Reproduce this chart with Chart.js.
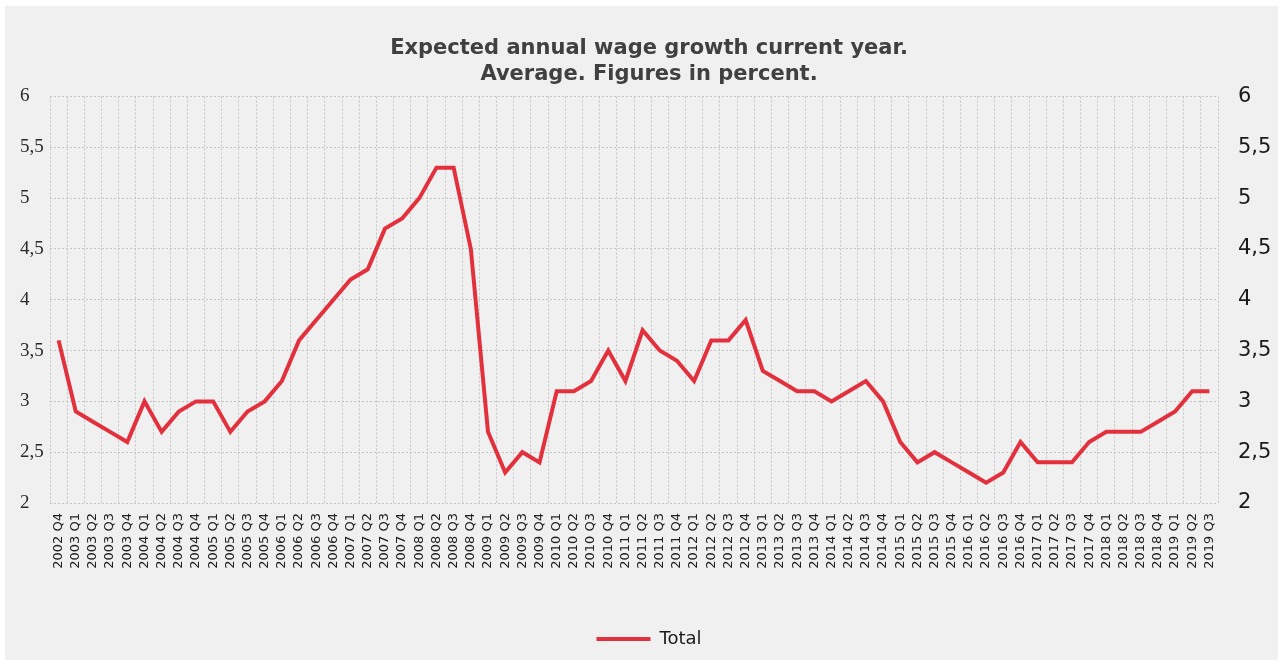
<!DOCTYPE html>
<html>
<head>
<meta charset="utf-8">
<title>Expected annual wage growth</title>
<script src="https://cdn.jsdelivr.net/npm/chart.js@4.4.0/dist/chart.umd.min.js"></script>
<style>
    html, body {
        margin: 0;
        padding: 0;
        background: #ffffff;
    }
    #wrap {
        position: absolute;
        left: 5px;
        top: 6px;
        width: 1273px;
        height: 654px;
        background: #f0f0f0;
    }
</style>
</head>
<body>
<div id="wrap"><canvas id="wageChart" width="1273" height="654"></canvas></div>
<script>
const quarters = [
    "2002 Q4",
    "2003 Q1", "2003 Q2", "2003 Q3", "2003 Q4",
    "2004 Q1", "2004 Q2", "2004 Q3", "2004 Q4",
    "2005 Q1", "2005 Q2", "2005 Q3", "2005 Q4",
    "2006 Q1", "2006 Q2", "2006 Q3", "2006 Q4",
    "2007 Q1", "2007 Q2", "2007 Q3", "2007 Q4",
    "2008 Q1", "2008 Q2", "2008 Q3", "2008 Q4",
    "2009 Q1", "2009 Q2", "2009 Q3", "2009 Q4",
    "2010 Q1", "2010 Q2", "2010 Q3", "2010 Q4",
    "2011 Q1", "2011 Q2", "2011 Q3", "2011 Q4",
    "2012 Q1", "2012 Q2", "2012 Q3", "2012 Q4",
    "2013 Q1", "2013 Q2", "2013 Q3", "2013 Q4",
    "2014 Q1", "2014 Q2", "2014 Q3", "2014 Q4",
    "2015 Q1", "2015 Q2", "2015 Q3", "2015 Q4",
    "2016 Q1", "2016 Q2", "2016 Q3", "2016 Q4",
    "2017 Q1", "2017 Q2", "2017 Q3", "2017 Q4",
    "2018 Q1", "2018 Q2", "2018 Q3", "2018 Q4",
    "2019 Q1", "2019 Q2", "2019 Q3"
];

const total = [
    3.6,
    2.9, 2.8, 2.7, 2.6,
    3.0, 2.7, 2.9, 3.0,
    3.0, 2.7, 2.9, 3.0,
    3.2, 3.6, 3.8, 4.0,
    4.2, 4.3, 4.7, 4.8,
    5.0, 5.3, 5.3, 4.5,
    2.7, 2.3, 2.5, 2.4,
    3.1, 3.1, 3.2, 3.5,
    3.2, 3.7, 3.5, 3.4,
    3.2, 3.6, 3.6, 3.8,
    3.3, 3.2, 3.1, 3.1,
    3.0, 3.1, 3.2, 3.0,
    2.6, 2.4, 2.5, 2.4,
    2.3, 2.2, 2.3, 2.6,
    2.4, 2.4, 2.4, 2.6,
    2.7, 2.7, 2.7, 2.8,
    2.9, 3.1, 3.1
];

const titleLines = ["Expected annual wage growth current year.", "Average. Figures in percent."];
const seriesName = "Total";
const yMin = 2;
const yMax = 6;
const yStep = 0.5;

document.addEventListener("DOMContentLoaded", () => {
    const gridColor = "#c4c4c4";
    const lineColor = "#e3303d";

    function commaLabel(value) {
        return String(value).replace(".", ",");
    }

    const ctx = document.getElementById("wageChart").getContext("2d");
    new Chart(ctx, {
        type: "line",
        data: {
            labels: quarters,
            datasets: [{
                label: seriesName,
                data: total,
                borderColor: lineColor,
                backgroundColor: lineColor,
                borderWidth: 4,
                pointRadius: 0,
                tension: 0,
                yAxisID: "y",
            }],
        },
        options: {
            responsive: false,
            animation: false,
            devicePixelRatio: 1,
            layout: {
                padding: { left: 15, right: 0, top: 0, bottom: 2 },
            },
            plugins: {
                title: {
                    display: true,
                    text: titleLines,
                    color: "#404040",
                    font: { family: "DejaVu Sans", size: 21, weight: "bold", lineHeight: 1.25 },
                    padding: { top: 29, bottom: 9 },
                },
                legend: {
                    position: "bottom",
                    labels: {
                        usePointStyle: true,
                        pointStyle: "line",
                        pointStyleWidth: 54,
                        color: "#1a1a1a",
                        font: { family: "DejaVu Sans", size: 18 },
                        padding: 10,
                    },
                },
                tooltip: { enabled: false },
            },
            scales: {
                x: {
                    offset: true,
                    grid: {
                        offset: true,
                        color: gridColor,
                        drawTicks: false,
                    },
                    border: { display: false, dash: [2, 2] },
                    ticks: {
                        autoSkip: false,
                        minRotation: 90,
                        maxRotation: 90,
                        padding: 10,
                        color: "#222222",
                        font: { family: "DejaVu Sans", size: 13 },
                    },
                    afterFit: (scale) => { scale.height = 117; },
                },
                y: {
                    position: "left",
                    min: yMin,
                    max: yMax,
                    grid: { color: gridColor, drawTicks: false },
                    border: { display: false, dash: [2, 2] },
                    ticks: {
                        stepSize: yStep,
                        crossAlign: "far",
                        padding: 0,
                        color: "#2a2a2a",
                        font: { family: "Liberation Sans Narrow", size: 19 },
                        callback: commaLabel,
                    },
                    afterFit: (scale) => { scale.width = 30; },
                },
                y2: {
                    position: "right",
                    min: yMin,
                    max: yMax,
                    grid: { display: false, drawTicks: false },
                    border: { display: false },
                    ticks: {
                        stepSize: yStep,
                        padding: 20,
                        color: "#1a1a1a",
                        font: { family: "DejaVu Sans", size: 21 },
                        callback: commaLabel,
                    },
                    afterFit: (scale) => { scale.width = 60; },
                },
            },
        },
    });
});
</script>
</body>
</html>
